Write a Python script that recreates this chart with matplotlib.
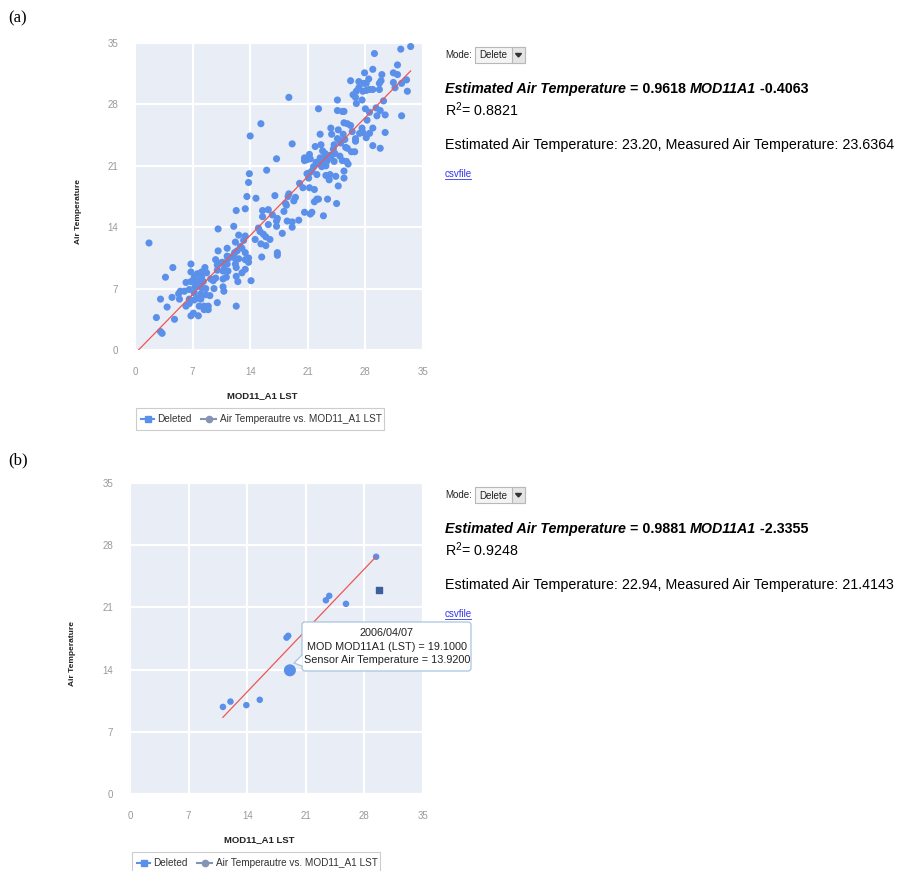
import matplotlib
matplotlib.use("Agg")
import matplotlib.pyplot as plt
from matplotlib.patches import Rectangle, FancyBboxPatch, Polygon

plt.rcParams["font.family"] = ["Liberation Sans", "DejaVu Sans"]
plt.rcParams["mathtext.fontset"] = "custom"
plt.rcParams["mathtext.rm"] = "Liberation Sans"

W, H = 901, 871

# ---- panel (a): all stations ----
lst_a = [
    33.5, 32.3, 29.1, 31.9, 28.9, 27.9, 30.0, 31.4, 31.9, 26.2, 27.2, 28.4, 28.1, 27.8, 29.9,
    29.7, 31.4, 33.0, 32.4, 31.6, 27.2, 26.9, 27.7, 28.1, 28.5, 28.9, 29.7, 26.5, 26.8, 33.1,
    27.6, 26.9, 30.2, 18.7, 24.6, 22.3, 24.6, 25.2, 25.4, 28.0, 28.5, 29.3, 29.8, 30.4, 29.4,
    32.4, 28.2, 25.4, 25.8, 26.2, 15.3, 23.8, 27.6, 28.9, 23.9, 24.7, 25.3, 26.4, 27.3, 27.7,
    28.5, 28.1, 30.4, 14.0, 22.5, 24.6, 24.9, 25.5, 25.0, 24.2, 22.6, 21.9, 19.1, 25.6, 26.8,
    26.8, 28.9, 29.8, 24.1, 25.8, 26.3, 26.7, 22.8, 23.1, 23.7, 24.3, 24.9, 20.6, 21.2, 20.6,
    20.9, 21.3, 22.5, 22.8, 23.1, 23.8, 24.2, 25.2, 25.7, 25.9, 17.2, 22.0, 22.4, 22.9, 23.3,
    21.7, 22.7, 23.2, 21.2, 20.9, 21.5, 22.1, 16.0, 13.9, 23.2, 23.7, 24.4, 23.6, 25.4, 25.4,
    21.1, 13.8, 20.0, 20.4, 21.2, 21.8, 24.7, 13.6, 14.7, 17.0, 18.7, 18.6, 19.5, 19.3, 21.8,
    22.1, 22.3, 23.4, 24.5, 18.3, 18.4, 13.4, 12.3, 15.5, 16.2, 15.5, 16.7, 18.1, 20.6, 21.3,
    21.5, 22.9, 17.3, 17.2, 18.5, 19.1, 19.9, 12.0, 10.1, 15.0, 16.2, 17.2, 19.1, 17.9,
    1.7, 12.6, 15.2, 15.6, 14.6, 15.9, 15.3, 15.9, 16.4, 13.4, 13.2, 12.2, 12.8, 13.0, 12.4,
    12.1, 11.2, 10.1, 13.4, 17.3, 17.3, 15.4, 13.8, 13.8, 13.4, 12.6, 12.1, 11.6, 11.3, 11.2,
    9.8, 10.4, 10.6, 11.0, 10.0, 6.8, 4.6, 11.2, 12.2, 12.3, 13.4, 13.0, 12.3, 10.8, 11.3,
    10.7, 10.0, 8.5, 8.1, 8.7, 7.6, 6.8, 7.2, 3.7, 6.2, 6.8, 7.4, 7.9, 8.1, 8.3,
    9.2, 9.5, 9.8, 10.7, 11.1, 12.5, 14.1, 7.8, 8.1, 8.6, 7.3, 5.5, 6.0, 6.6, 9.6,
    10.7, 10.8, 5.3, 7.2, 8.0, 8.6, 9.1, 3.1, 4.5, 5.4, 6.6, 7.2, 7.5, 8.0, 6.6,
    6.2, 3.9, 7.8, 8.4, 8.9, 10.0, 8.4, 8.9, 12.3, 6.8, 7.7, 7.1, 2.6, 4.8, 3.1, 3.3,
]
air_a = [
    34.6, 34.3, 33.8, 32.5, 32.0, 31.6, 31.4, 31.6, 31.4, 30.7, 30.6, 30.9, 30.4, 30.4, 30.7,
    30.4, 30.5, 30.8, 30.4, 29.9, 29.9, 29.5, 29.5, 29.6, 29.7, 29.7, 29.7, 29.1, 28.8, 29.5,
    28.5, 28.1, 28.4, 28.8, 28.5, 27.5, 27.3, 27.2, 27.2, 27.5, 27.1, 27.6, 27.3, 26.8, 26.7,
    26.7, 26.2, 25.9, 25.8, 25.6, 25.8, 25.3, 25.3, 25.3, 24.6, 25.1, 24.6, 24.9, 24.7, 24.8,
    24.7, 24.2, 24.8, 24.4, 24.6, 24.1, 23.9, 24.0, 23.6, 23.4, 23.4, 23.2, 23.5, 23.1, 23.8,
    24.1, 23.3, 23.0, 22.9, 23.0, 22.6, 22.6, 22.7, 22.4, 22.2, 22.4, 22.1, 21.9, 22.3, 21.6,
    21.7, 21.8, 21.9, 21.8, 21.8, 21.9, 21.5, 21.6, 21.5, 21.2, 21.8, 21.4, 21.2, 21.3, 21.5,
    20.9, 20.9, 21.0, 20.2, 20.1, 20.4, 20.0, 20.5, 20.1, 19.9, 20.0, 19.8, 19.4, 20.4, 19.6,
    19.6, 19.1, 19.0, 18.5, 18.5, 18.3, 18.7, 17.5, 17.3, 17.6, 17.8, 17.5, 17.4, 17.0, 16.9,
    17.2, 17.2, 17.2, 16.7, 16.7, 16.5, 16.1, 15.9, 15.9, 16.0, 15.2, 15.4, 15.8, 15.7, 15.5,
    15.7, 15.3, 15.0, 14.7, 14.7, 14.6, 14.8, 14.1, 13.8, 13.9, 14.3, 14.1, 14.0, 13.3,
    12.2, 13.1, 13.5, 13.2, 12.6, 12.9, 12.1, 11.9, 12.6, 13.0, 12.5, 12.3, 11.8, 11.6, 11.3,
    11.1, 11.6, 11.3, 11.1, 11.1, 10.8, 10.6, 10.5, 10.0, 10.3, 10.4, 10.5, 10.6, 10.4, 10.7,
    10.3, 9.9, 10.0, 9.9, 9.7, 9.8, 9.4, 9.8, 9.8, 9.4, 9.2, 8.8, 8.4, 9.2, 9.0,
    9.0, 9.1, 9.4, 8.9, 8.8, 8.7, 8.9, 8.3, 8.3, 7.7, 7.8, 7.8, 8.0, 8.3, 7.8,
    8.1, 7.9, 8.2, 8.1, 8.3, 7.8, 7.9, 7.3, 7.1, 7.0, 7.2, 6.7, 6.7, 6.9, 7.0,
    7.2, 6.7, 6.4, 6.5, 6.4, 6.3, 6.2, 5.8, 6.0, 5.8, 5.8, 5.7, 5.9, 5.8, 5.3,
    5.0, 4.9, 5.0, 5.0, 5.0, 5.4, 4.6, 4.6, 5.0, 3.9, 3.9, 4.2, 3.7, 3.5, 2.1, 1.9,
]
slope_a, icpt_a = 0.9618, -0.4063

# ---- panel (b): after deleting points ----
lst_b = [29.4, 23.4, 23.8, 25.8, 18.7, 18.9, 11.1, 12.0, 13.9, 15.5]
air_b = [26.7, 21.8, 22.3, 21.4, 17.6, 17.8, 9.8, 10.4, 10.0, 10.6]
deleted_b = (29.8, 23.0)
selected_b = (19.1, 13.92)
slope_b, icpt_b = 0.9881, -2.3355

ticks = [0, 7, 14, 21, 28, 35]

BLUE = "#5a8fea"
BG = "#e8edf6"
RED = "#f05555"
GREY = "#999999"


def px_axes(fig, left, top, right, bottom):
    return fig.add_axes([left / W, 1 - bottom / H, (right - left) / W, (bottom - top) / H])


def style_axes(ax):
    ax.set_facecolor(BG)
    ax.set_xlim(0, 35)
    ax.set_ylim(0, 35)
    ax.set_xticks(ticks)
    ax.set_yticks(ticks)
    ax.grid(True, color="white", linewidth=1.6)
    ax.set_axisbelow(True)
    for sp in ax.spines.values():
        sp.set_visible(False)
    ax.tick_params(length=0, labelsize=7, labelcolor=GREY, pad=12)


fig = plt.figure(figsize=(W / 100, H / 100), dpi=100)

# panel (a)
ax_a = px_axes(fig, 135, 43, 423, 350)
style_axes(ax_a)
ax_a.scatter(lst_a, air_a, s=26, color=BLUE, edgecolors="none", zorder=3)
xa = [-icpt_a / slope_a, max(lst_a)]
ax_a.plot(xa, [slope_a * v + icpt_a for v in xa], color=RED, lw=0.9, zorder=4)

# panel (b)
ax_b = px_axes(fig, 130, 483, 423, 794)
style_axes(ax_b)
ax_b.scatter(lst_b, air_b, s=22, color=BLUE, edgecolors="none", zorder=3)
ax_b.scatter([selected_b[0]], [selected_b[1]], s=75, color=BLUE, edgecolors="none", zorder=3)
ax_b.scatter([deleted_b[0]], [deleted_b[1]], s=22, marker="s", color="#3d5f9e", zorder=3)
xb = [min(lst_b), max(lst_b)]
ax_b.plot(xb, [slope_b * v + icpt_b for v in xb], color=RED, lw=0.9, zorder=4)

# overlay in pixel coordinates for labels, legends, panel text
ov = fig.add_axes([0, 0, 1, 1], zorder=10)
ov.set_xlim(0, W)
ov.set_ylim(H, 0)
ov.axis("off")
ov.patch.set_alpha(0)


def chain(pieces, x, y, size):
    prev = ov.text(x, y, pieces[0][0], fontsize=size, fontweight="bold" if "b" in pieces[0][1] else "normal",
                   fontstyle="italic" if "i" in pieces[0][1] else "normal", va="baseline", ha="left")
    for s, st in pieces[1:]:
        prev = ov.annotate(s, xy=(1, y), xycoords=(prev, "data"), fontsize=size,
                           fontweight="bold" if "b" in st else "normal",
                           fontstyle="italic" if "i" in st else "normal", va="baseline", ha="left")


def side_panel(top, slope, icpt, r2, est, meas):
    # Mode dropdown
    ov.text(445, top + 8, "Mode:", fontsize=7, va="center", ha="left", color="#222222")
    ov.add_patch(Rectangle((475, top), 50, 16, facecolor="#f4f4f4", edgecolor="#b8b8b8", lw=0.8))
    ov.add_patch(Rectangle((512, top), 13, 16, facecolor="#e4e4e4", edgecolor="#b8b8b8", lw=0.8))
    ov.text(479, top + 8.5, "Delete", fontsize=7, va="center", ha="left", color="#222222")
    ov.add_patch(Polygon([(515.5, top + 6.5), (521.5, top + 6.5), (518.5, top + 10)], color="#333333"))
    # regression equation
    chain([("Estimated Air Temperature", "bi"), (f" = {slope:.4f} ", "b"), ("MOD11A1", "bi"),
           (f" {icpt:.4f}", "b")], 445, top + 46, 10.3)
    ov.text(445, top + 69, f"R$^2$= {r2:.4f}", fontsize=10.3, va="baseline", ha="left")
    ov.text(445, top + 102, f"Estimated Air Temperature: {est:.2f}, Measured Air Temperature: {meas:.4f}",
            fontsize=10.3, va="baseline", ha="left")
    ov.text(445, top + 130, "csvfile", fontsize=7, va="baseline", ha="left", color="#3333ee")
    ov.plot([445, 471], [top + 132, top + 132], color="#3333ee", lw=0.6)


def legend(left, top, height):
    ov.add_patch(Rectangle((left, top), 248, height, facecolor="white", edgecolor="#cccccc", lw=0.8))
    cy = top + 11
    ov.plot([left + 5, left + 18], [cy, cy], color="#5a8fea", lw=1.5)
    ov.plot([left + 11.5], [cy], marker="s", ms=4.5, color="#5a8fea")
    ov.text(left + 21, cy, "Deleted", fontsize=7.2, va="center", ha="left", color="#333333")
    ov.plot([left + 65, left + 80], [cy, cy], color="#8494b4", lw=1.5)
    ov.plot([left + 72.5], [cy], marker="o", ms=4.5, color="#8494b4")
    ov.text(left + 84, cy, "Air Temperautre vs. MOD11_A1 LST", fontsize=7.2, va="center", ha="left",
            color="#333333")


for ax_top, ax_bot, ax_cx, ylab_x in [(43, 350, 279, 79), (483, 794, 276, 73)]:
    ov.text(ax_cx - 17, ax_bot + 46, "MOD11_A1 LST", fontsize=6.8, fontweight="bold", ha="center",
            va="center", color="#222222")
    ov.text(ylab_x, (ax_top + ax_bot) / 2 + 15, "Air Temperature", fontsize=6, fontweight="bold",
            rotation=90, ha="center", va="center", color="#222222")

legend(136, 408, 22)
legend(132, 852, 30)

side_panel(47, slope_a, icpt_a, 0.8821, 23.20, 23.6364)
side_panel(487, slope_b, icpt_b, 0.9248, 22.94, 21.4143)

# tooltip for the selected point in (b)
ov.add_patch(FancyBboxPatch((302, 622), 169, 49, boxstyle="round,pad=0,rounding_size=3",
                            facecolor="white", edgecolor="#a8c4e0", lw=0.9))
ov.add_patch(Polygon([(302.6, 655), (294, 663), (302.6, 666)], facecolor="white", edgecolor="none"))
ov.plot([302, 294, 302], [655, 663, 666], color="#a8c4e0", lw=0.9)
for i, line in enumerate(["2006/04/07", "MOD MOD11A1 (LST) = 19.1000", "Sensor Air Temperature = 13.9200"]):
    ov.text(387, 633 + 13.5 * i, line, fontsize=7.8, ha="center", va="center", color="#222222")

# panel tags
ov.text(8, 18, "(a)", fontsize=12, family=["Liberation Serif"], va="center", ha="left")
ov.text(8, 460, "(b)", fontsize=12, family=["Liberation Serif"], va="center", ha="left")

fig.savefig("out.png", dpi=100)
